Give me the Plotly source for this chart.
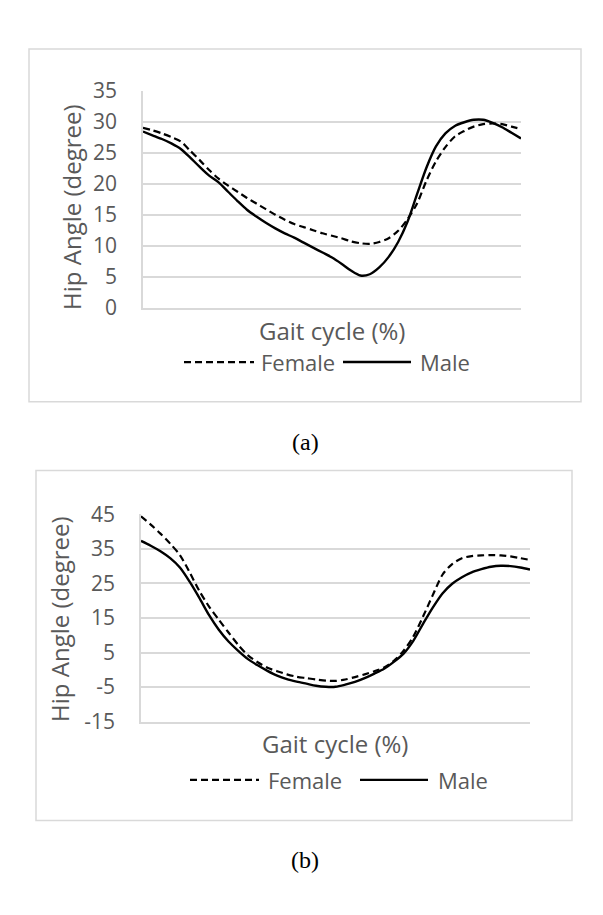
import plotly.graph_objects as go

W, H = 603, 915

# ---- data ----
gait = [0, 2.5, 5, 7.5, 10, 12.5, 15, 17.5, 20, 22.5, 25, 27.5, 30, 32.5, 35, 37.5, 40, 42.5, 45, 47.5,
        50, 52.5, 55, 57.5, 60, 62.5, 65, 67.5, 70, 72.5, 75, 77.5, 80, 82.5, 85, 87.5, 90, 92.5, 95, 97.5, 100]

a_female = [29.0, 28.6, 28.1, 27.5, 26.8, 25.3, 23.8, 22.2, 20.8, 19.7, 18.7, 17.7, 16.8, 15.9, 15.0, 14.2, 13.5, 13.0, 12.5, 12.0,
            11.6, 11.2, 10.7, 10.4, 10.3, 10.6, 11.2, 12.4, 14.3, 16.8, 20.5, 23.6, 25.9, 27.6, 28.5, 29.2, 29.6, 29.7, 29.6, 29.2, 28.8]
a_male = [28.4, 27.8, 27.2, 26.5, 25.6, 24.2, 22.7, 21.3, 20.2, 18.7, 17.2, 15.8, 14.7, 13.7, 12.8, 12.0, 11.3, 10.5, 9.7, 8.9,
          8.1, 7.1, 6.0, 5.2, 5.4, 6.5, 8.2, 10.6, 13.9, 18.3, 22.6, 26.0, 28.1, 29.3, 29.9, 30.3, 30.3, 29.8, 29.1, 28.2, 27.3]

b_female = [44.4, 42.0, 39.4, 36.5, 33.2, 28.2, 22.8, 18.3, 14.5, 10.8, 7.2, 4.2, 2.2, 0.6, -0.4, -1.3, -2.0, -2.4, -2.8, -3.1,
            -3.2, -2.8, -2.1, -1.3, -0.4, 0.7, 2.6, 5.5, 9.6, 15.4, 21.6, 27.5, 30.6, 32.3, 32.9, 33.1, 33.2, 33.1, 32.8, 32.3, 31.8]
b_male = [37.3, 35.9, 34.3, 32.3, 29.6, 25.5, 20.8, 15.8, 11.6, 8.2, 5.5, 3.1, 1.3, -0.3, -1.7, -2.7, -3.4, -4.0, -4.6, -4.9,
          -4.9, -4.3, -3.5, -2.4, -1.1, 0.3, 2.3, 4.7, 8.4, 13.3, 18.0, 22.1, 24.9, 26.8, 28.2, 29.1, 29.8, 30.1, 30.0, 29.6, 29.0]

a_yticks = [0, 5, 10, 15, 20, 25, 30, 35]
a_ylabels = ["0", "5", "10", "15", "20", "25", "30", "35"]
b_yticks = [-15, -5, 5, 15, 25, 35, 45]
b_ylabels = ["-15", "-5", "5", "15", "25", "35", "45"]

series_names = ["Female", "Male"]
y_title = "Hip Angle (degree)"
x_title = "Gait cycle (%)"
panel_labels = ["(a)", "(b)"]

# ---- styling helpers ----
GRID = "#d9d9d9"
TXT = "#595959"
FONT = "Open Sans"
DASH = "7px,4px"


def fx(px):
    return px / W


def fy(py):
    return 1 - py / H


fig = go.Figure()

fig.add_trace(go.Scatter(x=gait, y=a_female, mode="lines", name=series_names[0],
                         line=dict(color="black", width=2.2, dash=DASH, shape="spline", smoothing=0.8),
                         xaxis="x", yaxis="y", showlegend=False))
fig.add_trace(go.Scatter(x=gait, y=a_male, mode="lines", name=series_names[1],
                         line=dict(color="black", width=2.4, shape="spline", smoothing=0.8),
                         xaxis="x", yaxis="y", showlegend=False))
fig.add_trace(go.Scatter(x=gait, y=b_female, mode="lines", name=series_names[0],
                         line=dict(color="black", width=2.2, dash=DASH, shape="spline", smoothing=0.8),
                         xaxis="x2", yaxis="y2", showlegend=False))
fig.add_trace(go.Scatter(x=gait, y=b_male, mode="lines", name=series_names[1],
                         line=dict(color="black", width=2.4, shape="spline", smoothing=0.8),
                         xaxis="x2", yaxis="y2", showlegend=False))

xcommon = dict(range=[0, 100], showticklabels=False, showgrid=False, zeroline=False,
               showline=True, linecolor=GRID, linewidth=1.5, ticks="", fixedrange=True)
ycommon = dict(showgrid=True, gridcolor=GRID, gridwidth=1.5, zeroline=False,
               showline=True, linecolor=GRID, linewidth=1.5, ticks="",
               tickfont=dict(family=FONT, size=21, color=TXT), ticklabelstandoff=20,
               fixedrange=True)

fig.update_layout(
    width=W, height=H,
    margin=dict(l=0, r=0, t=0, b=0),
    paper_bgcolor="white", plot_bgcolor="white",
    showlegend=False,
    xaxis=dict(domain=[fx(143), fx(521)], anchor="y", **xcommon),
    yaxis=dict(domain=[fy(302), fy(78)], anchor="x", range=[0, 35],
               tickvals=a_yticks, ticktext=a_ylabels, **ycommon),
    xaxis2=dict(domain=[fx(141), fx(530)], anchor="y2", **xcommon),
    yaxis2=dict(domain=[fy(729), fy(515)], anchor="x2", range=[-15, 45],
                tickvals=b_yticks, ticktext=b_ylabels, **ycommon),
)

shapes = []
annotations = []

# outer boxes
for (x0, y0, x1, y1) in [(29, 35, 581, 399), (36, 470, 572, 831)]:
    shapes.append(dict(type="rect", xref="paper", yref="paper",
                       x0=fx(x0), x1=fx(x1), y0=fy(y1), y1=fy(y0),
                       line=dict(color=GRID, width=1.5), fillcolor="rgba(0,0,0,0)", layer="below"))

# axis titles
for (cx, cy) in [(332, 325), (335, 751)]:
    annotations.append(dict(text=x_title, xref="paper", yref="paper", x=fx(cx), y=fy(cy),
                            xanchor="center", yanchor="middle", showarrow=False,
                            font=dict(family=FONT, size=24, color=TXT)))
for (cx, cy) in [(72, 199), (60, 624)]:
    annotations.append(dict(text=y_title, xref="paper", yref="paper", x=fx(cx), y=fy(cy),
                            xanchor="center", yanchor="middle", showarrow=False, textangle=-90,
                            font=dict(family=FONT, size=24, color=TXT)))

# legends
legends = [
    dict(cy=358, f=(184, 254, 259), m=(343, 411, 418)),
    dict(cy=789, f=(190, 259, 266), m=(360, 428, 436)),
]
for lg in legends:
    cy = lg["cy"]
    x0, x1, tx = lg["f"]
    shapes.append(dict(type="line", xref="paper", yref="paper", x0=fx(x0), x1=fx(x1),
                       y0=fy(cy), y1=fy(cy), line=dict(color="black", width=2.2, dash=DASH)))
    annotations.append(dict(text=series_names[0], xref="paper", yref="paper", x=fx(tx), y=fy(cy),
                            xanchor="left", yanchor="middle", showarrow=False,
                            font=dict(family=FONT, size=22, color=TXT)))
    x0, x1, tx = lg["m"]
    shapes.append(dict(type="line", xref="paper", yref="paper", x0=fx(x0), x1=fx(x1),
                       y0=fy(cy), y1=fy(cy), line=dict(color="black", width=2.4)))
    annotations.append(dict(text=series_names[1], xref="paper", yref="paper", x=fx(tx), y=fy(cy),
                            xanchor="left", yanchor="middle", showarrow=False,
                            font=dict(family=FONT, size=22, color=TXT)))

# panel labels
for lbl, cy in zip(panel_labels, [440, 872]):
    annotations.append(dict(text=lbl, xref="paper", yref="paper", x=fx(305), y=fy(cy),
                            xanchor="center", yanchor="middle", showarrow=False,
                            font=dict(family="Liberation Serif", size=24, color="black")))

fig.update_layout(shapes=shapes, annotations=annotations)

fig.write_html("out.html")
